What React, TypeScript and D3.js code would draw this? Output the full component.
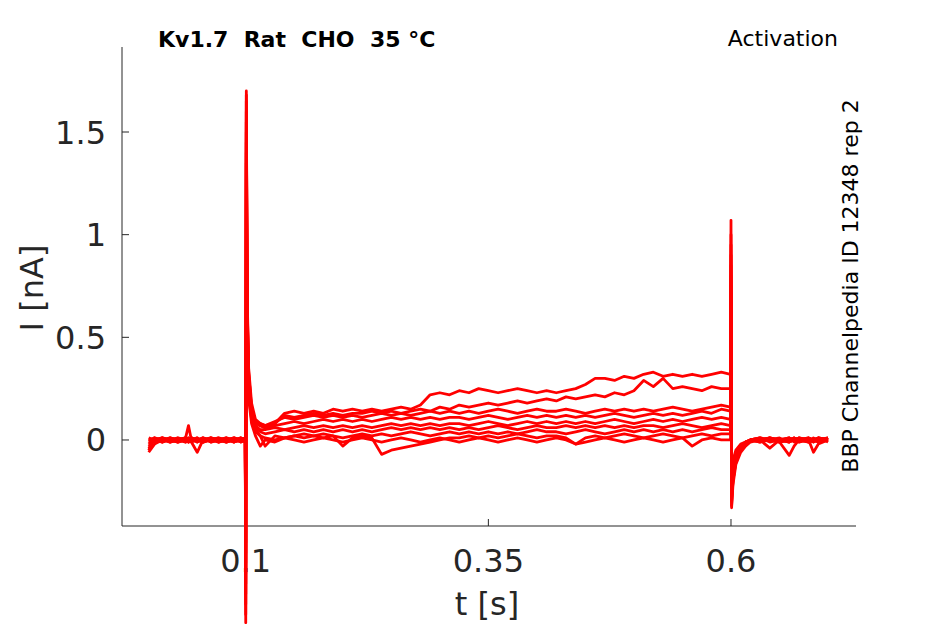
import * as React from "react";
import * as d3 from "d3";

// sample times [s], split by protocol segment
const T_PRE = [0, 0.006, 0.014, 0.022, 0.03, 0.038, 0.041, 0.044, 0.05, 0.056, 0.064, 0.072, 0.08, 0.088, 0.095, 0.0995];
const T_PULSE = [0.1, 0.1006, 0.1015, 0.103, 0.106, 0.11, 0.115];
const T_STEADY = [
  0.12, 0.13, 0.14, 0.15, 0.16, 0.17, 0.18, 0.19, 0.2, 0.21,
  0.22, 0.23, 0.24, 0.25, 0.26, 0.27, 0.28, 0.29, 0.3, 0.31,
  0.32, 0.33, 0.34, 0.35, 0.36, 0.37, 0.38, 0.39, 0.4, 0.41,
  0.42, 0.43, 0.44, 0.45, 0.46, 0.47, 0.48, 0.49, 0.5, 0.51,
  0.52, 0.53, 0.54, 0.55, 0.56, 0.57, 0.58, 0.59,
];
const T_END = [0.5995, 0.6, 0.6006, 0.602, 0.605, 0.61, 0.615, 0.62];
const T_TAIL = [0.63, 0.64, 0.65, 0.66, 0.665, 0.67, 0.68, 0.685, 0.69, 0.7];
const TIME = [...T_PRE, ...T_PULSE, ...T_STEADY, ...T_END, ...T_TAIL];

// currents [nA], one sweep per array
const SWEEP_1 = [
  -0.05, 0.01, -0.01, 0.01, 0.0, 0.01, -0.01, 0.0, 0.01, -0.01, 0.01, 0.0, -0.01, 0.01, 0.0, 0.01,
  -0.89, 1.7, 0.7, 0.35, 0.18, 0.1, 0.08,
  0.07, 0.08, 0.13, 0.14, 0.13, 0.14, 0.13, 0.15, 0.14, 0.15,
  0.14, 0.15, 0.14, 0.15, 0.16, 0.15, 0.17, 0.22, 0.23, 0.22,
  0.24, 0.23, 0.25, 0.24, 0.23, 0.24, 0.25, 0.24, 0.23, 0.24,
  0.23, 0.24, 0.25, 0.27, 0.3, 0.3, 0.29, 0.31, 0.3, 0.32,
  0.33, 0.31, 0.32, 0.31, 0.32, 0.31, 0.32, 0.33,
  0.32, 1.07, -0.33, -0.22, -0.12, -0.06, -0.03, -0.01,
  0.0, 0.01, -0.01, 0.0, 0.01, 0.0, -0.01, 0.01, 0.0, 0.01,
];
const SWEEP_2 = [
  0.0, -0.01, 0.01, 0.0, -0.01, 0.01, 0.07, 0.0, -0.01, 0.01, 0.0, -0.01, 0.01, 0.0, -0.01, 0.0,
  -0.7, 1.55, 0.6, 0.3, 0.15, 0.09, 0.07,
  0.06, 0.08, 0.12, 0.11, 0.12, 0.13, 0.12, 0.13, 0.12, 0.13,
  0.13, 0.14, 0.13, 0.14, 0.13, 0.14, 0.15, 0.14, 0.16, 0.15,
  0.17, 0.16, 0.17, 0.18, 0.17, 0.18, 0.19, 0.18, 0.19, 0.2,
  0.19, 0.21, 0.2, 0.21, 0.22, 0.21, 0.23, 0.22, 0.24, 0.29,
  0.26, 0.3, 0.25, 0.26, 0.25, 0.24, 0.26, 0.25,
  0.25, 0.95, -0.28, -0.18, -0.1, -0.05, -0.02, 0.0,
  -0.01, 0.0, 0.01, -0.01, 0.0, 0.01, 0.0, -0.01, 0.01, 0.0,
];
const SWEEP_3 = [
  -0.03, 0.0, 0.01, -0.01, 0.0, 0.01, 0.0, -0.01, -0.06, 0.0, 0.01, -0.01, 0.0, 0.01, -0.01, 0.0,
  -0.8, 1.6, 0.65, 0.32, 0.16, 0.09, 0.08,
  0.07, 0.09, 0.11, 0.1, 0.11, 0.12, 0.11, 0.12, 0.11, 0.12,
  0.11, 0.12, 0.13, 0.12, 0.13, 0.12, 0.13, 0.14, 0.13, 0.14,
  0.13, 0.14, 0.13, 0.14, 0.15, 0.14, 0.13, 0.14, 0.15, 0.14,
  0.14, 0.15, 0.14, 0.13, 0.14, 0.15, 0.14, 0.15, 0.14, 0.15,
  0.14, 0.15, 0.16, 0.15, 0.14, 0.15, 0.16, 0.17,
  0.16, 0.9, -0.3, -0.2, -0.11, -0.05, -0.02, 0.0,
  0.01, -0.01, 0.0, 0.01, -0.01, 0.0, 0.01, 0.0, -0.01, 0.0,
];
const SWEEP_4 = [
  -0.06, -0.02, 0.0, 0.01, -0.01, 0.0, 0.01, 0.0, 0.01, -0.01, 0.0, 0.01, -0.01, 0.0, 0.01, 0.0,
  -0.6, 1.5, 0.55, 0.28, 0.14, 0.08, 0.07,
  0.06, 0.07, 0.08, 0.09, 0.08, 0.09, 0.1, 0.09, 0.1, 0.09,
  0.1, 0.09, 0.1, 0.11, 0.1, 0.11, 0.1, 0.11, 0.1, 0.11,
  0.11, 0.1, 0.11, 0.12, 0.11, 0.1, 0.11, 0.12, 0.11, 0.12,
  0.11, 0.12, 0.11, 0.12, 0.11, 0.12, 0.13, 0.12, 0.11, 0.12,
  0.13, 0.12, 0.13, 0.12, 0.13, 0.14, 0.13, 0.15,
  0.14, 0.85, -0.25, -0.17, -0.09, -0.04, -0.02, 0.0,
  0.0, 0.01, -0.01, -0.075, -0.03, 0.0, 0.01, 0.0, -0.01, 0.01,
];
const SWEEP_5 = [
  0.0, 0.01, -0.01, 0.0, 0.01, -0.01, 0.0, 0.01, 0.0, -0.01, 0.01, 0.0, -0.01, 0.0, 0.01, 0.0,
  -0.75, 1.65, 0.62, 0.3, 0.13, 0.07, 0.05,
  0.05, 0.06, 0.05, 0.06, 0.07, 0.06, 0.07, 0.06, 0.07, 0.06,
  0.07, 0.06, 0.07, 0.08, 0.07, 0.08, 0.07, 0.08, 0.07, 0.08,
  0.08, 0.07, 0.08, 0.09, 0.08, 0.07, 0.08, 0.09, 0.08, 0.09,
  0.08, 0.09, 0.08, 0.09, 0.08, 0.09, 0.1, 0.09, 0.08, 0.09,
  0.1, 0.09, 0.1, 0.09, 0.1, 0.11, 0.1, 0.11,
  0.1, 0.8, -0.22, -0.15, -0.08, -0.04, -0.01, 0.0,
  0.01, 0.0, -0.01, 0.0, 0.01, -0.01, 0.0, -0.06, -0.02, 0.0,
];
const SWEEP_6 = [
  -0.04, 0.0, 0.01, -0.01, 0.0, 0.01, -0.01, 0.0, 0.0, 0.01, -0.01, 0.0, 0.01, -0.01, 0.0, 0.01,
  -0.65, 1.45, 0.5, 0.25, 0.12, 0.06, 0.04,
  0.03, 0.04, 0.05, 0.04, 0.05, 0.04, 0.05, 0.04, 0.05, 0.04,
  0.05, 0.04, 0.05, 0.06, 0.05, 0.06, 0.05, 0.06, 0.05, 0.06,
  0.05, 0.06, 0.05, 0.06, 0.07, 0.06, 0.05, 0.06, 0.07, 0.06,
  0.06, 0.07, 0.06, 0.07, 0.06, 0.07, 0.06, 0.07, 0.06, 0.07,
  0.07, 0.06, 0.07, 0.08, 0.07, 0.06, 0.07, 0.08,
  0.07, 0.75, -0.2, -0.14, -0.07, -0.03, -0.01, 0.0,
  0.0, -0.04, 0.0, 0.01, 0.0, -0.01, 0.01, 0.0, 0.01, -0.01,
];
const SWEEP_7 = [
  0.01, 0.0, -0.01, 0.01, 0.0, -0.01, 0.0, 0.01, -0.01, 0.0, 0.01, -0.01, 0.0, 0.01, 0.0, -0.01,
  -0.55, 1.4, 0.48, 0.22, 0.1, 0.04, 0.02,
  -0.03, 0.02, 0.01, 0.02, 0.03, 0.02, 0.03, 0.02, 0.01, 0.02,
  0.03, 0.02, 0.03, 0.02, 0.03, 0.04, 0.03, 0.02, 0.03, 0.04,
  0.03, 0.04, 0.03, 0.04, 0.03, 0.04, 0.03, 0.04, 0.05, 0.04,
  0.04, 0.03, 0.04, 0.05, 0.04, 0.03, 0.04, 0.05, 0.04, 0.05,
  0.04, 0.05, 0.04, 0.05, 0.04, 0.05, 0.06, 0.05,
  0.05, 0.7, -0.18, -0.12, -0.06, -0.03, -0.01, 0.0,
  0.01, 0.0, -0.01, 0.01, 0.0, 0.01, -0.01, 0.0, 0.01, 0.0,
];
const SWEEP_8 = [
  0.0, -0.01, 0.01, 0.0, -0.01, 0.0, 0.01, -0.01, 0.0, 0.01, -0.01, 0.0, 0.01, -0.01, 0.01, 0.0,
  -0.85, 1.68, 0.66, 0.33, 0.14, 0.05, 0.02,
  0.01, 0.0, 0.01, 0.02, 0.01, 0.02, 0.01, 0.02, -0.03, 0.01,
  0.02, 0.01, -0.07, -0.05, -0.04, -0.03, -0.02, -0.01, 0.0, 0.01,
  0.01, 0.02, 0.01, 0.02, 0.01, 0.02, 0.03, 0.02, 0.01, 0.02,
  0.02, 0.01, -0.02, 0.01, 0.02, 0.01, 0.02, 0.03, 0.02, 0.01,
  0.02, 0.03, 0.02, 0.01, 0.02, 0.03, 0.02, 0.03,
  0.03, 1.0, -0.32, -0.2, -0.1, -0.05, -0.02, 0.0,
  -0.01, 0.01, 0.0, -0.01, 0.01, 0.0, -0.01, 0.0, 0.01, 0.0,
];
const SWEEP_9 = [
  -0.02, 0.01, 0.0, -0.01, 0.01, 0.0, -0.01, 0.01, 0.0, -0.01, 0.0, 0.01, 0.0, -0.01, 0.0, 0.01,
  -0.5, 1.35, 0.45, 0.2, 0.08, 0.02, -0.03,
  0.0, -0.01, 0.01, 0.0, -0.01, 0.0, 0.01, 0.0, -0.01, 0.0,
  0.01, 0.0, -0.01, 0.0, 0.01, 0.0, -0.01, 0.0, 0.01, 0.0,
  -0.01, 0.0, 0.01, 0.0, -0.01, 0.0, 0.01, 0.0, -0.01, 0.0,
  0.01, 0.0, -0.02, -0.01, 0.0, 0.01, 0.0, -0.01, 0.0, 0.01,
  0.0, -0.01, 0.0, 0.01, -0.03, 0.0, 0.01, 0.0,
  0.0, 0.65, -0.15, -0.1, -0.05, -0.02, -0.01, 0.0,
  0.0, 0.01, 0.0, -0.01, 0.0, 0.01, 0.0, -0.01, 0.0, 0.01,
];
const SWEEPS = [SWEEP_9, SWEEP_7, SWEEP_6, SWEEP_5, SWEEP_4, SWEEP_3, SWEEP_2, SWEEP_8, SWEEP_1];

const X_TICKS = [0.1, 0.35, 0.6];
const Y_TICKS = [0, 0.5, 1, 1.5];

const TITLE = "Kv1.7  Rat  CHO  35 °C";
const PROTOCOL = "Activation";
const SOURCE = "BBP Channelpedia ID 12348 rep 2";

const W = 945;
const H = 624;
const left = 122, right = 856, top = 47, bottom = 526;
const axisColor = "#262626";
const font = "'DejaVu Sans', sans-serif";

export default function App() {
  const x = d3.scaleLinear().domain([-0.0275, 0.7288]).range([left, right]);
  const y = d3.scaleLinear().domain([-0.419, 1.914]).range([bottom, top]);

  const line = d3.line<number>()
    .x((_, i) => x(TIME[i]))
    .y(d => y(d));

  return (
    <div style={{position: "fixed", left: 0, top: 0}}>
      <svg width={W} height={H} style={{display: "block", background: "#fff"}}>
        {/* axes */}
        <line x1={left} x2={left} y1={top} y2={bottom} stroke={axisColor} strokeWidth={1}/>
        <line x1={left} x2={right} y1={bottom} y2={bottom} stroke={axisColor} strokeWidth={1}/>
        {Y_TICKS.map(t => (
          <g key={"y" + t}>
            <line x1={left} x2={left + 7} y1={y(t)} y2={y(t)} stroke={axisColor}/>
            <text x={left - 16} y={y(t)} dy="0.36em" textAnchor="end" fontFamily={font}
                  fontSize={32} fill={axisColor}>{t}</text>
          </g>
        ))}
        {X_TICKS.map(t => (
          <g key={"x" + t}>
            <line x1={x(t)} x2={x(t)} y1={bottom} y2={bottom - 7} stroke={axisColor}/>
            <text x={x(t)} y={572} textAnchor="middle" fontFamily={font}
                  fontSize={32} fill={axisColor}>{t}</text>
          </g>
        ))}
        <text x={487} y={615} textAnchor="middle" fontFamily={font} fontSize={32} fill={axisColor}>t [s]</text>
        <text transform={`translate(43,${288}) rotate(-90)`} textAnchor="middle" fontFamily={font}
              fontSize={32} fill={axisColor}>I [nA]</text>

        {/* sweeps */}
        <g fill="none" stroke="#ff0000" strokeWidth={2.8} strokeLinejoin="round">
          {SWEEPS.map((s, i) => <path key={i} d={line(s) || ""}/>)}
        </g>

        {/* annotations */}
        <text x={158} y={47} fontFamily={font} fontWeight="bold" fontSize={22} fill="#000"
              style={{whiteSpace: "pre"}}>{TITLE}</text>
        <text x={838} y={46} textAnchor="end" fontFamily={font} fontSize={22} fill="#000">{PROTOCOL}</text>
        <text transform={`translate(858,286) rotate(-90)`} textAnchor="middle" fontFamily={font}
              fontSize={22} fill="#000">{SOURCE}</text>
      </svg>
    </div>
  );
}
